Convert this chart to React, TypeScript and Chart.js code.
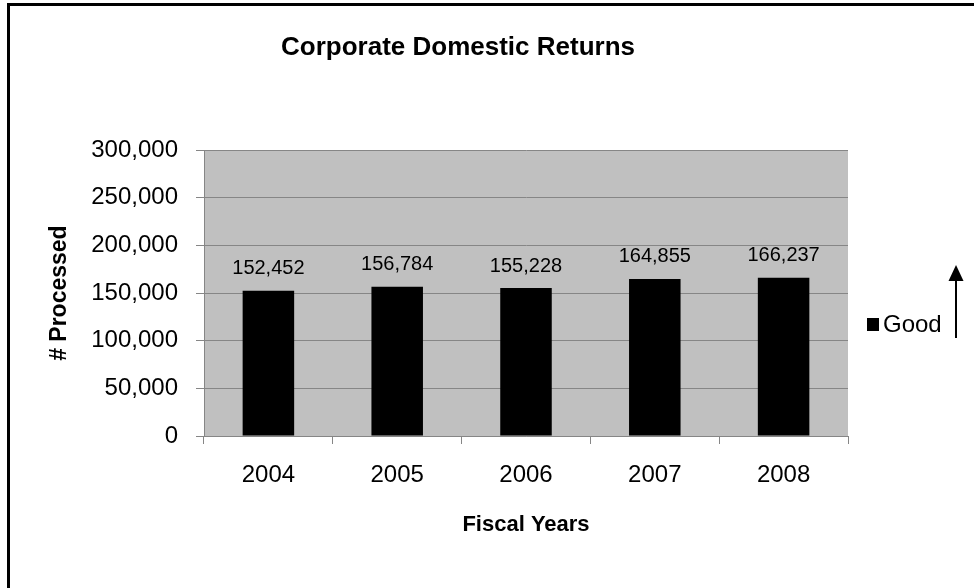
import React, { useEffect, useRef } from "react";
import { Chart, registerables } from "chart.js";

Chart.register(...registerables);

const chartTitle = "Corporate Domestic Returns";
const xAxisTitle = "Fiscal Years";
const yAxisTitle = "# Processed";
const seriesLabel = "Good";
const categories = ["2004", "2005", "2006", "2007", "2008"];
const goodValues = [152452, 156784, 155228, 164855, 166237];
const yMin = 0;
const yMax = 300000;
const yStep = 50000;

const FONT = "'Liberation Sans', Arial, Helvetica, sans-serif";
const GRID = "#868686";

const fmt = (v: number) => Number(v).toLocaleString("en-US");

const backgroundPlugin = {
  id: "plotBg",
  beforeDraw(chart: any) {
    const { ctx, chartArea } = chart;
    ctx.save();
    ctx.fillStyle = "#ffffff";
    ctx.fillRect(0, 0, chart.width, chart.height);
    ctx.fillStyle = "#c0c0c0";
    ctx.fillRect(chartArea.left, chartArea.top, chartArea.right - chartArea.left, chartArea.bottom - chartArea.top);
    ctx.restore();
  },
};

const valueLabelPlugin = {
  id: "valueLabels",
  afterDatasetsDraw(chart: any) {
    const { ctx } = chart;
    const meta = chart.getDatasetMeta(0);
    const data = chart.data.datasets[0].data as number[];
    ctx.save();
    ctx.font = `20px ${FONT}`;
    ctx.fillStyle = "#000";
    ctx.textAlign = "center";
    ctx.textBaseline = "middle";
    meta.data.forEach((bar: any, i: number) => {
      ctx.fillText(fmt(data[i]), bar.x, bar.y - 22);
    });
    ctx.restore();
  },
};

const legendArrowPlugin = {
  id: "legendArrow",
  afterDraw(chart: any) {
    const { ctx, chartArea } = chart;
    const ds = chart.data.datasets[0];
    const x0 = chartArea.right + 19;
    const yc = 325;
    ctx.save();
    ctx.fillStyle = ds.backgroundColor as string;
    ctx.fillRect(x0, yc - 7, 12, 13);
    ctx.fillStyle = "#000";
    ctx.font = `24px ${FONT}`;
    ctx.textAlign = "left";
    ctx.textBaseline = "middle";
    ctx.fillText(ds.label, x0 + 16, yc);
    // arrow
    const ax = chartArea.right + 108;
    ctx.strokeStyle = "#000";
    ctx.lineWidth = 2;
    ctx.beginPath();
    ctx.moveTo(ax, 338);
    ctx.lineTo(ax, 278);
    ctx.stroke();
    ctx.beginPath();
    ctx.moveTo(ax, 265);
    ctx.lineTo(ax - 7.5, 281);
    ctx.lineTo(ax + 7.5, 281);
    ctx.closePath();
    ctx.fill();
    // outer frame (left & top edges)
    ctx.fillRect(7, 3, 3, chart.height - 3);
    ctx.fillRect(7, 3, chart.width - 7, 3);
    ctx.restore();
  },
};

export default function App() {
  const ref = useRef<HTMLCanvasElement | null>(null);

  useEffect(() => {
    document.body.style.margin = "0";
    const canvas = ref.current;
    if (!canvas) return;
    Chart.defaults.font.family = FONT;
    Chart.defaults.color = "#000";
    const chart = new Chart(canvas, {
      type: "bar",
      data: {
        labels: categories,
        datasets: [
          {
            label: seriesLabel,
            data: goodValues,
            backgroundColor: "#000000",
            borderWidth: 0,
            barPercentage: 0.4,
            categoryPercentage: 1,
            yAxisID: "y",
            xAxisID: "x",
          },
        ],
      },
      options: {
        responsive: false,
        animation: false,
        devicePixelRatio: 1,
        layout: { padding: { left: 0, right: 58, top: 0, bottom: 0 } },
        plugins: {
          legend: { display: false },
          tooltip: { enabled: false },
          title: {
            display: true,
            text: chartTitle,
            color: "#000",
            font: { size: 26, weight: "bold", family: FONT },
            padding: { top: 32, bottom: 87 },
          },
        },
        scales: {
          x: {
            position: "bottom",
            grid: {
              display: true,
              drawOnChartArea: false,
              drawTicks: true,
              tickLength: 8,
              color: GRID,
              offset: true,
            },
            border: { display: true, color: GRID, width: 1 },
            ticks: { font: { size: 24, family: FONT }, color: "#000", padding: 17, maxRotation: 0 },
            title: {
              display: true,
              text: xAxisTitle,
              color: "#000",
              font: { size: 22, weight: "bold", family: FONT },
              padding: { top: 0, bottom: 50 },
            },
            afterFit: (scale: any) => {
              scale.height = 152;
            },
          },
          y: {
            position: "left",
            min: yMin,
            max: yMax,
            grid: { color: GRID, tickLength: 8, drawTicks: true },
            border: { display: true, color: GRID, width: 1 },
            ticks: {
              stepSize: yStep,
              font: { size: 24, family: FONT },
              color: "#000",
              padding: 18,
              callback: (v: any) => fmt(v),
            },
            title: {
              display: true,
              text: yAxisTitle,
              color: "#000",
              font: { size: 23, weight: "bold", family: FONT },
              padding: { top: 46, bottom: 0 },
            },
            afterFit: (scale: any) => {
              scale.width = 204;
            },
          },
          yRight: {
            type: "linear",
            position: "right",
            display: true,
            grid: { display: false, drawTicks: false },
            border: { display: false },
            ticks: { display: false },
            title: { display: false },
            afterFit: (scale: any) => {
              scale.width = 68;
            },
          },
        },
      },
      plugins: [backgroundPlugin, valueLabelPlugin, legendArrowPlugin],
    } as any);
    return () => chart.destroy();
  }, []);

  return (
    <div style={{ width: 974, height: 588 }}>
      <canvas ref={ref} width={974} height={588} style={{ display: "block" }} />
    </div>
  );
}
